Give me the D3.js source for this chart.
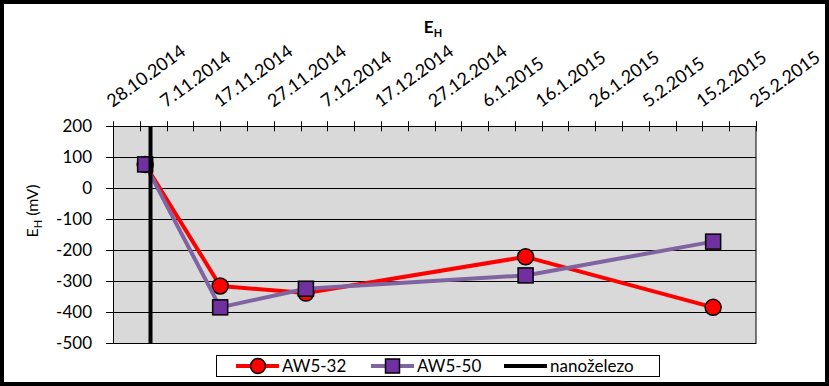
<!DOCTYPE html>
<html>
<head>
<meta charset="utf-8">
<script src="https://cdnjs.cloudflare.com/ajax/libs/d3/7.8.5/d3.min.js"></script>
<style>
	body { margin: 0; background: #fff; }
	text { font-family: Lato, "Open Sans", sans-serif; }
</style>
</head>
<body>
<div id="chart_goes_here"></div>
<script>
// date labels on the top axis (every 10 days, minor ticks every 5)
var date_labels = ["28.10.2014", "7.11.2014", "17.11.2014", "27.11.2014", "7.12.2014", "17.12.2014",
	"27.12.2014", "6.1.2015", "16.1.2015", "26.1.2015", "5.2.2015", "15.2.2015", "25.2.2015"];
var y_ticks = [200, 100, 0, -100, -200, -300, -400, -500];

// measurement dates and EH values (mV)
var sample_dates = ["3.11.2014", "17.11.2014", "3.12.2014", "13.1.2015", "17.2.2015"];
var aw5_32 = [77, -315, -338, -221, -384];
var aw5_50 = [77, -384, -324, -281, -172];
// nanoiron injection date
var nano_date = "4.11.2014";

var settings = {
	width: 829,
	height: 386,
	left: 113,
	right: 756,
	top: 126.3,
	bottom: 343.3
}

var parse = d3.utcParse("%d.%m.%Y");

var svg = d3.select("#chart_goes_here")
	.append("svg")
	.attr("width", settings.width)
	.attr("height", settings.height);

var x = d3.scaleUtc()
	.domain([parse(date_labels[0]), parse(date_labels[date_labels.length - 1])])
	.range([settings.left, settings.right]);

var y = d3.scaleLinear()
	.domain([-500, 200])
	.range([settings.bottom, settings.top]);

//plot area
svg.append("rect")
	.attr("x", settings.left)
	.attr("y", settings.top)
	.attr("width", settings.right - settings.left)
	.attr("height", settings.bottom - settings.top)
	.style("fill", "#d9d9d9");

//horizontal gridlines + left ticks
svg.selectAll(".grid")
	.data(y_ticks)
	.enter()
	.append("line")
	.attr("x1", settings.left - 7)
	.attr("x2", settings.right)
	.attr("y1", function(d){ return Math.round(y(d)) + 0.5; })
	.attr("y2", function(d){ return Math.round(y(d)) + 0.5; })
	.style("stroke", "#000")
	.style("stroke-width", 1);

svg.selectAll(".ylab")
	.data(y_ticks)
	.enter()
	.append("text")
	.attr("x", 92)
	.attr("y", function(d){ return y(d); })
	.attr("dy", "0.36em")
	.attr("text-anchor", "end")
	.style("font-size", "17px")
	.text(function(d){ return d; });

//plot border
svg.append("rect")
	.attr("x", settings.left + 0.5)
	.attr("y", Math.round(settings.top) + 0.5)
	.attr("width", settings.right - settings.left - 0.5)
	.attr("height", Math.round(settings.bottom) - Math.round(settings.top))
	.style("fill", "none")
	.style("stroke", "#000")
	.style("stroke-width", 1);

//top axis ticks, major and minor cross the axis line
var tick_dates = [];
date_labels.forEach(function(l, i){
	var d = parse(l);
	tick_dates.push(d);
	if (i < date_labels.length - 1) tick_dates.push(d3.utcDay.offset(d, 5));
});
svg.selectAll(".xtick")
	.data(tick_dates)
	.enter()
	.append("line")
	.attr("x1", function(d){ return Math.round(x(d)) + 0.5; })
	.attr("x2", function(d){ return Math.round(x(d)) + 0.5; })
	.attr("y1", settings.top - 5)
	.attr("y2", settings.top + 5)
	.style("stroke", "#000")
	.style("stroke-width", 1);

svg.selectAll(".xlab")
	.data(date_labels)
	.enter()
	.append("text")
	.attr("transform", function(d){ return "translate(" + (x(parse(d)) - 0.5) + ",108) rotate(-36)"; })
	.style("font-size", "18px")
	.text(function(d){ return d; });

//series
function add_series(values, colour, line_colour, shape){
	var pts = sample_dates.map(function(d, i){ return [x(parse(d)), y(values[i])]; });
	svg.append("path")
		.attr("d", d3.line()(pts))
		.style("fill", "none")
		.style("stroke", line_colour)
		.style("stroke-width", 4)
		.style("stroke-linejoin", "round");
	if (shape == "circle"){
		svg.selectAll(".m_" + colour.slice(1))
			.data(pts)
			.enter()
			.append("circle")
			.attr("cx", function(p){ return p[0]; })
			.attr("cy", function(p){ return p[1]; })
			.attr("r", 8)
			.style("fill", colour)
			.style("stroke", "#000")
			.style("stroke-width", 1.5);
	} else {
		svg.selectAll(".m_" + colour.slice(1))
			.data(pts)
			.enter()
			.append("rect")
			.attr("x", function(p){ return p[0] - 7.5; })
			.attr("y", function(p){ return p[1] - 7.5; })
			.attr("width", 15)
			.attr("height", 15)
			.style("fill", colour)
			.style("stroke", "#000")
			.style("stroke-width", 1.5);
	}
}
add_series(aw5_32, "#ff0000", "#ff0000", "circle");
add_series(aw5_50, "#7030a0", "#8064a2", "square");

//nanoiron vertical line
svg.append("line")
	.attr("x1", x(parse(nano_date)))
	.attr("x2", x(parse(nano_date)))
	.attr("y1", y(200))
	.attr("y2", y(-500))
	.style("stroke", "#000")
	.style("stroke-width", 4);

//title
var title = svg.append("text")
	.attr("x", 433)
	.attr("y", 33)
	.attr("text-anchor", "middle")
	.style("font-size", "17px")
	.style("font-weight", "bold");
title.append("tspan").text("E");
title.append("tspan").attr("dy", 4).style("font-size", "11px").text("H");

//y axis title
var ytitle = svg.append("text")
	.attr("transform", "translate(38,211) rotate(-90)")
	.attr("text-anchor", "middle")
	.style("font-size", "16px");
ytitle.append("tspan").text("E");
ytitle.append("tspan").attr("dy", 4).style("font-size", "11px").text("H");
ytitle.append("tspan").attr("dy", -4).text(" (mV)");

//legend
var legend = svg.append("g");
legend.append("rect")
	.attr("x", 216.5)
	.attr("y", 355.5)
	.attr("width", 443)
	.attr("height", 21)
	.style("fill", "#fff")
	.style("stroke", "#000")
	.style("stroke-width", 1);
var ly = 366;
var legend_items = [
	{name: "AW5-32", x: 236, line: "#ff0000", fill: "#ff0000", shape: "circle"},
	{name: "AW5-50", x: 371, line: "#8064a2", fill: "#7030a0", shape: "square"},
	{name: "nanoželezo", x: 504, line: "#000", fill: null, shape: null}
];
legend_items.forEach(function(it){
	legend.append("line")
		.attr("x1", it.x).attr("x2", it.x + 43)
		.attr("y1", ly).attr("y2", ly)
		.style("stroke", it.line)
		.style("stroke-width", 4);
	if (it.shape == "circle"){
		legend.append("circle")
			.attr("cx", it.x + 22).attr("cy", ly).attr("r", 7.5)
			.style("fill", it.fill).style("stroke", "#000").style("stroke-width", 1.5);
	} else if (it.shape == "square"){
		legend.append("rect")
			.attr("x", it.x + 14.5).attr("y", ly - 7).attr("width", 14).attr("height", 14)
			.style("fill", it.fill).style("stroke", "#000").style("stroke-width", 1.5);
	}
	legend.append("text")
		.attr("x", it.x + 46)
		.attr("y", ly)
		.attr("dy", "0.36em")
		.style("font-size", "17px")
		.text(it.name);
});

//outer frame
svg.append("rect")
	.attr("x", 2)
	.attr("y", 2)
	.attr("width", settings.width - 4)
	.attr("height", settings.height - 4)
	.style("fill", "none")
	.style("stroke", "#000")
	.style("stroke-width", 4);
</script>
</body>
</html>
